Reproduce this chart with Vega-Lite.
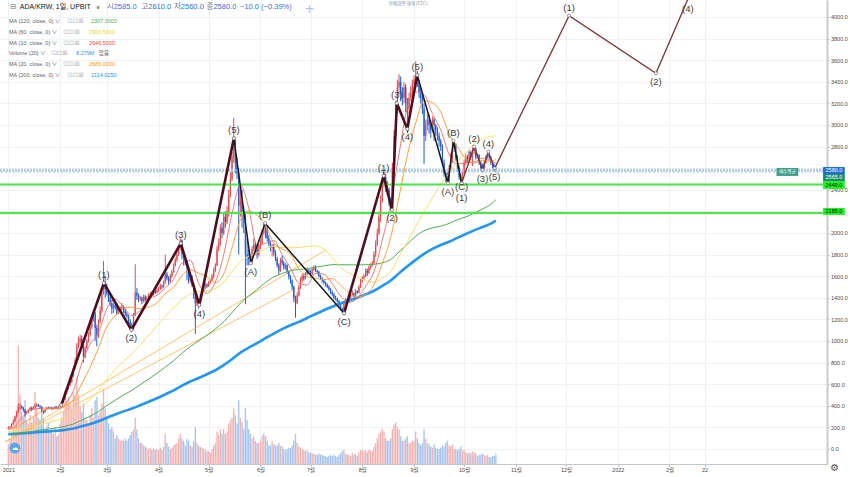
{
"$schema": "https://vega.github.io/schema/vega-lite/v6.json",
"width": 827,
"height": 464,
"autosize": {"type": "none"},
"padding": {"left": 0, "top": 0, "right": 23, "bottom": 13},
"background": "#ffffff",
"config": {"view": {"stroke": null}, "axis": {"labelOverlap": false, "labelBound": false}, "axisY": {"labelOverlap": false}, "axisQuantitative": {"labelOverlap": false, "tickCount": 21}},
"datasets": {
"c": [
{"d":"2021-01-01","o":190,"h":210,"l":185,"c":200,"v":17},
{"d":"2021-01-02","o":200,"h":215,"l":195,"c":205,"v":22},
{"d":"2021-01-03","o":205,"h":240,"l":200,"c":230,"v":26},
{"d":"2021-01-04","o":230,"h":275,"l":222,"c":260,"v":30},
{"d":"2021-01-05","o":260,"h":310,"l":250,"c":300,"v":39},
{"d":"2021-01-06","o":300,"h":350,"l":292,"c":340,"v":47},
{"d":"2021-01-07","o":340,"h":420,"l":330,"c":390,"v":102},
{"d":"2021-01-08","o":390,"h":425,"l":360,"c":395,"v":60},
{"d":"2021-01-09","o":395,"h":405,"l":370,"c":380,"v":45},
{"d":"2021-01-10","o":380,"h":390,"l":345,"c":360,"v":40},
{"d":"2021-01-11","o":360,"h":370,"l":300,"c":330,"v":55},
{"d":"2021-01-12","o":330,"h":355,"l":320,"c":340,"v":38},
{"d":"2021-01-13","o":340,"h":368,"l":330,"c":360,"v":35},
{"d":"2021-01-14","o":360,"h":390,"l":355,"c":380,"v":42},
{"d":"2021-01-15","o":380,"h":392,"l":350,"c":370,"v":36},
{"d":"2021-01-16","o":370,"h":395,"l":365,"c":385,"v":40},
{"d":"2021-01-17","o":385,"h":420,"l":378,"c":395,"v":62},
{"d":"2021-01-18","o":395,"h":425,"l":388,"c":410,"v":48},
{"d":"2021-01-19","o":410,"h":418,"l":390,"c":400,"v":40},
{"d":"2021-01-20","o":400,"h":405,"l":370,"c":390,"v":38},
{"d":"2021-01-21","o":390,"h":395,"l":340,"c":355,"v":45},
{"d":"2021-01-22","o":355,"h":362,"l":325,"c":340,"v":40},
{"d":"2021-01-23","o":340,"h":372,"l":335,"c":365,"v":30},
{"d":"2021-01-24","o":365,"h":388,"l":360,"c":380,"v":33},
{"d":"2021-01-25","o":380,"h":392,"l":368,"c":375,"v":36},
{"d":"2021-01-26","o":375,"h":390,"l":370,"c":385,"v":28},
{"d":"2021-01-27","o":385,"h":390,"l":360,"c":370,"v":30},
{"d":"2021-01-28","o":370,"h":386,"l":365,"c":380,"v":26},
{"d":"2021-01-29","o":380,"h":398,"l":372,"c":390,"v":32},
{"d":"2021-01-30","o":390,"h":395,"l":378,"c":385,"v":24},
{"d":"2021-01-31","o":385,"h":402,"l":380,"c":395,"v":25},
{"d":"2021-02-01","o":395,"h":418,"l":390,"c":410,"v":35},
{"d":"2021-02-02","o":410,"h":440,"l":405,"c":430,"v":40},
{"d":"2021-02-03","o":430,"h":470,"l":425,"c":460,"v":45},
{"d":"2021-02-04","o":460,"h":540,"l":455,"c":520,"v":60},
{"d":"2021-02-05","o":520,"h":575,"l":505,"c":560,"v":55},
{"d":"2021-02-06","o":560,"h":620,"l":548,"c":600,"v":58},
{"d":"2021-02-07","o":600,"h":650,"l":580,"c":620,"v":52},
{"d":"2021-02-08","o":620,"h":700,"l":610,"c":680,"v":48},
{"d":"2021-02-09","o":680,"h":770,"l":665,"c":750,"v":62},
{"d":"2021-02-10","o":750,"h":850,"l":740,"c":820,"v":58},
{"d":"2021-02-11","o":820,"h":980,"l":810,"c":950,"v":75},
{"d":"2021-02-12","o":950,"h":1040,"l":930,"c":990,"v":60},
{"d":"2021-02-13","o":990,"h":1060,"l":960,"c":1020,"v":50},
{"d":"2021-02-14","o":1020,"h":1050,"l":930,"c":960,"v":45},
{"d":"2021-02-15","o":960,"h":980,"l":800,"c":850,"v":52},
{"d":"2021-02-16","o":850,"h":950,"l":840,"c":930,"v":40},
{"d":"2021-02-17","o":930,"h":1020,"l":920,"c":1000,"v":38},
{"d":"2021-02-18","o":1000,"h":1080,"l":985,"c":1060,"v":35},
{"d":"2021-02-19","o":1060,"h":1160,"l":1040,"c":1130,"v":42},
{"d":"2021-02-20","o":1130,"h":1250,"l":1110,"c":1200,"v":48},
{"d":"2021-02-21","o":1200,"h":1290,"l":1180,"c":1250,"v":40},
{"d":"2021-02-22","o":1250,"h":1270,"l":1000,"c":1120,"v":55},
{"d":"2021-02-23","o":1120,"h":1150,"l":950,"c":1050,"v":58},
{"d":"2021-02-24","o":1050,"h":1200,"l":1030,"c":1180,"v":42},
{"d":"2021-02-25","o":1180,"h":1320,"l":1160,"c":1280,"v":45},
{"d":"2021-02-26","o":1280,"h":1480,"l":1260,"c":1450,"v":52},
{"d":"2021-02-27","o":1450,"h":1740,"l":1430,"c":1540,"v":65},
{"d":"2021-02-28","o":1540,"h":1600,"l":1400,"c":1480,"v":48},
{"d":"2021-03-01","o":1480,"h":1530,"l":1420,"c":1440,"v":40},
{"d":"2021-03-02","o":1440,"h":1460,"l":1360,"c":1400,"v":35},
{"d":"2021-03-03","o":1400,"h":1420,"l":1320,"c":1350,"v":30},
{"d":"2021-03-04","o":1350,"h":1380,"l":1250,"c":1300,"v":32},
{"d":"2021-03-05","o":1300,"h":1350,"l":1260,"c":1330,"v":28},
{"d":"2021-03-06","o":1330,"h":1345,"l":1290,"c":1310,"v":22},
{"d":"2021-03-07","o":1310,"h":1320,"l":1240,"c":1260,"v":25},
{"d":"2021-03-08","o":1260,"h":1310,"l":1250,"c":1290,"v":22},
{"d":"2021-03-09","o":1290,"h":1320,"l":1270,"c":1300,"v":20},
{"d":"2021-03-10","o":1300,"h":1350,"l":1285,"c":1320,"v":21},
{"d":"2021-03-11","o":1320,"h":1330,"l":1260,"c":1280,"v":20},
{"d":"2021-03-12","o":1280,"h":1300,"l":1230,"c":1250,"v":22},
{"d":"2021-03-13","o":1250,"h":1270,"l":1210,"c":1230,"v":20},
{"d":"2021-03-14","o":1230,"h":1245,"l":1160,"c":1180,"v":22},
{"d":"2021-03-15","o":1180,"h":1200,"l":1120,"c":1150,"v":25},
{"d":"2021-03-16","o":1150,"h":1170,"l":1095,"c":1110,"v":28},
{"d":"2021-03-17","o":1110,"h":1260,"l":1100,"c":1240,"v":30},
{"d":"2021-03-18","o":1240,"h":1710,"l":1230,"c":1450,"v":40},
{"d":"2021-03-19","o":1450,"h":1490,"l":1380,"c":1420,"v":30},
{"d":"2021-03-20","o":1420,"h":1440,"l":1360,"c":1390,"v":22},
{"d":"2021-03-21","o":1390,"h":1420,"l":1370,"c":1400,"v":18},
{"d":"2021-03-22","o":1400,"h":1410,"l":1340,"c":1370,"v":18},
{"d":"2021-03-23","o":1370,"h":1430,"l":1355,"c":1410,"v":16},
{"d":"2021-03-24","o":1410,"h":1425,"l":1360,"c":1380,"v":15},
{"d":"2021-03-25","o":1380,"h":1415,"l":1365,"c":1400,"v":14},
{"d":"2021-03-26","o":1400,"h":1440,"l":1390,"c":1420,"v":13},
{"d":"2021-03-27","o":1420,"h":1455,"l":1410,"c":1440,"v":14},
{"d":"2021-03-28","o":1440,"h":1460,"l":1415,"c":1430,"v":12},
{"d":"2021-03-29","o":1430,"h":1480,"l":1420,"c":1460,"v":14},
{"d":"2021-03-30","o":1460,"h":1475,"l":1435,"c":1450,"v":12},
{"d":"2021-03-31","o":1450,"h":1490,"l":1440,"c":1470,"v":13},
{"d":"2021-04-01","o":1470,"h":1500,"l":1455,"c":1480,"v":12},
{"d":"2021-04-02","o":1480,"h":1530,"l":1470,"c":1510,"v":14},
{"d":"2021-04-03","o":1510,"h":1525,"l":1480,"c":1500,"v":12},
{"d":"2021-04-04","o":1500,"h":1560,"l":1490,"c":1540,"v":15},
{"d":"2021-04-05","o":1540,"h":1800,"l":1530,"c":1620,"v":26},
{"d":"2021-04-06","o":1620,"h":1640,"l":1560,"c":1580,"v":18},
{"d":"2021-04-07","o":1580,"h":1600,"l":1520,"c":1550,"v":15},
{"d":"2021-04-08","o":1550,"h":1620,"l":1540,"c":1600,"v":13},
{"d":"2021-04-09","o":1600,"h":1660,"l":1585,"c":1640,"v":14},
{"d":"2021-04-10","o":1640,"h":1720,"l":1630,"c":1700,"v":16},
{"d":"2021-04-11","o":1700,"h":1770,"l":1690,"c":1750,"v":17},
{"d":"2021-04-12","o":1750,"h":1830,"l":1730,"c":1800,"v":18},
{"d":"2021-04-13","o":1800,"h":1890,"l":1790,"c":1860,"v":22},
{"d":"2021-04-14","o":1860,"h":1960,"l":1840,"c":1930,"v":26},
{"d":"2021-04-15","o":1930,"h":1940,"l":1760,"c":1800,"v":22},
{"d":"2021-04-16","o":1800,"h":1830,"l":1700,"c":1780,"v":20},
{"d":"2021-04-17","o":1780,"h":1790,"l":1700,"c":1720,"v":16},
{"d":"2021-04-18","o":1720,"h":1750,"l":1560,"c":1680,"v":22},
{"d":"2021-04-19","o":1680,"h":1690,"l":1530,"c":1560,"v":20},
{"d":"2021-04-20","o":1560,"h":1620,"l":1540,"c":1600,"v":16},
{"d":"2021-04-21","o":1600,"h":1610,"l":1500,"c":1520,"v":15},
{"d":"2021-04-22","o":1520,"h":1540,"l":1390,"c":1420,"v":20},
{"d":"2021-04-23","o":1420,"h":1440,"l":1065,"c":1350,"v":32},
{"d":"2021-04-24","o":1350,"h":1400,"l":1320,"c":1380,"v":18},
{"d":"2021-04-25","o":1380,"h":1390,"l":1300,"c":1330,"v":16},
{"d":"2021-04-26","o":1330,"h":1440,"l":1320,"c":1420,"v":15},
{"d":"2021-04-27","o":1420,"h":1480,"l":1410,"c":1460,"v":14},
{"d":"2021-04-28","o":1460,"h":1520,"l":1450,"c":1500,"v":13},
{"d":"2021-04-29","o":1500,"h":1540,"l":1480,"c":1520,"v":12},
{"d":"2021-04-30","o":1520,"h":1535,"l":1490,"c":1510,"v":11},
{"d":"2021-05-01","o":1510,"h":1555,"l":1500,"c":1540,"v":11},
{"d":"2021-05-02","o":1540,"h":1575,"l":1530,"c":1560,"v":10},
{"d":"2021-05-03","o":1560,"h":1620,"l":1550,"c":1600,"v":13},
{"d":"2021-05-04","o":1600,"h":1680,"l":1580,"c":1650,"v":16},
{"d":"2021-05-05","o":1650,"h":1720,"l":1640,"c":1700,"v":18},
{"d":"2021-05-06","o":1700,"h":1880,"l":1690,"c":1850,"v":28},
{"d":"2021-05-07","o":1850,"h":1950,"l":1830,"c":1900,"v":25},
{"d":"2021-05-08","o":1900,"h":2080,"l":1880,"c":2050,"v":30},
{"d":"2021-05-09","o":2050,"h":2100,"l":1950,"c":2000,"v":26},
{"d":"2021-05-10","o":2000,"h":2180,"l":1980,"c":2150,"v":30},
{"d":"2021-05-11","o":2150,"h":2200,"l":2050,"c":2100,"v":26},
{"d":"2021-05-12","o":2100,"h":2250,"l":2080,"c":2200,"v":28},
{"d":"2021-05-13","o":2200,"h":2400,"l":2150,"c":2350,"v":35},
{"d":"2021-05-14","o":2350,"h":2560,"l":2330,"c":2500,"v":38},
{"d":"2021-05-15","o":2500,"h":2750,"l":2480,"c":2700,"v":40},
{"d":"2021-05-16","o":2700,"h":3065,"l":2650,"c":2850,"v":48},
{"d":"2021-05-17","o":2850,"h":2880,"l":2550,"c":2650,"v":42},
{"d":"2021-05-18","o":2650,"h":2700,"l":2500,"c":2550,"v":35},
{"d":"2021-05-19","o":2550,"h":2600,"l":1800,"c":2250,"v":55},
{"d":"2021-05-20","o":2250,"h":2420,"l":2150,"c":2300,"v":40},
{"d":"2021-05-21","o":2300,"h":2400,"l":2050,"c":2200,"v":36},
{"d":"2021-05-22","o":2200,"h":2250,"l":2000,"c":2150,"v":30},
{"d":"2021-05-23","o":2150,"h":2200,"l":1340,"c":1800,"v":48},
{"d":"2021-05-24","o":1800,"h":1950,"l":1700,"c":1780,"v":38},
{"d":"2021-05-25","o":1780,"h":1850,"l":1700,"c":1760,"v":30},
{"d":"2021-05-26","o":1760,"h":1800,"l":1715,"c":1730,"v":26},
{"d":"2021-05-27","o":1730,"h":1880,"l":1720,"c":1850,"v":22},
{"d":"2021-05-28","o":1850,"h":1950,"l":1830,"c":1900,"v":24},
{"d":"2021-05-29","o":1900,"h":1920,"l":1800,"c":1850,"v":20},
{"d":"2021-05-30","o":1850,"h":1880,"l":1760,"c":1800,"v":18},
{"d":"2021-05-31","o":1800,"h":1900,"l":1780,"c":1880,"v":18},
{"d":"2021-06-01","o":1880,"h":1940,"l":1850,"c":1900,"v":20},
{"d":"2021-06-02","o":1900,"h":2030,"l":1890,"c":2000,"v":24},
{"d":"2021-06-03","o":2000,"h":2095,"l":1980,"c":2080,"v":26},
{"d":"2021-06-04","o":2080,"h":2090,"l":1950,"c":2050,"v":24},
{"d":"2021-06-05","o":2050,"h":2060,"l":1920,"c":1950,"v":20},
{"d":"2021-06-06","o":1950,"h":1980,"l":1880,"c":1900,"v":16},
{"d":"2021-06-07","o":1900,"h":1930,"l":1830,"c":1860,"v":16},
{"d":"2021-06-08","o":1860,"h":1900,"l":1780,"c":1880,"v":20},
{"d":"2021-06-09","o":1880,"h":1900,"l":1790,"c":1820,"v":17},
{"d":"2021-06-10","o":1820,"h":1840,"l":1740,"c":1760,"v":16},
{"d":"2021-06-11","o":1760,"h":1780,"l":1680,"c":1700,"v":16},
{"d":"2021-06-12","o":1700,"h":1720,"l":1620,"c":1650,"v":18},
{"d":"2021-06-13","o":1650,"h":1770,"l":1640,"c":1750,"v":16},
{"d":"2021-06-14","o":1750,"h":1790,"l":1700,"c":1720,"v":15},
{"d":"2021-06-15","o":1720,"h":1740,"l":1660,"c":1680,"v":13},
{"d":"2021-06-16","o":1680,"h":1720,"l":1660,"c":1700,"v":12},
{"d":"2021-06-17","o":1700,"h":1710,"l":1620,"c":1640,"v":13},
{"d":"2021-06-18","o":1640,"h":1650,"l":1570,"c":1600,"v":14},
{"d":"2021-06-19","o":1600,"h":1610,"l":1530,"c":1560,"v":14},
{"d":"2021-06-20","o":1560,"h":1570,"l":1470,"c":1500,"v":16},
{"d":"2021-06-21","o":1500,"h":1510,"l":1360,"c":1400,"v":20},
{"d":"2021-06-22","o":1400,"h":1420,"l":1215,"c":1350,"v":26},
{"d":"2021-06-23","o":1350,"h":1450,"l":1340,"c":1420,"v":18},
{"d":"2021-06-24","o":1420,"h":1520,"l":1410,"c":1500,"v":15},
{"d":"2021-06-25","o":1500,"h":1590,"l":1480,"c":1560,"v":14},
{"d":"2021-06-26","o":1560,"h":1620,"l":1540,"c":1600,"v":13},
{"d":"2021-06-27","o":1600,"h":1630,"l":1560,"c":1580,"v":12},
{"d":"2021-06-28","o":1580,"h":1640,"l":1570,"c":1620,"v":11},
{"d":"2021-06-29","o":1620,"h":1680,"l":1610,"c":1650,"v":12},
{"d":"2021-06-30","o":1650,"h":1670,"l":1620,"c":1640,"v":10},
{"d":"2021-07-01","o":1640,"h":1660,"l":1600,"c":1620,"v":10},
{"d":"2021-07-02","o":1620,"h":1680,"l":1610,"c":1660,"v":9},
{"d":"2021-07-03","o":1660,"h":1700,"l":1650,"c":1680,"v":9},
{"d":"2021-07-04","o":1680,"h":1700,"l":1640,"c":1650,"v":8},
{"d":"2021-07-05","o":1650,"h":1660,"l":1620,"c":1640,"v":8},
{"d":"2021-07-06","o":1640,"h":1650,"l":1590,"c":1600,"v":9},
{"d":"2021-07-07","o":1600,"h":1615,"l":1565,"c":1580,"v":8},
{"d":"2021-07-08","o":1580,"h":1590,"l":1540,"c":1560,"v":8},
{"d":"2021-07-09","o":1560,"h":1575,"l":1525,"c":1540,"v":7},
{"d":"2021-07-10","o":1540,"h":1550,"l":1505,"c":1520,"v":7},
{"d":"2021-07-11","o":1520,"h":1535,"l":1490,"c":1500,"v":6},
{"d":"2021-07-12","o":1500,"h":1515,"l":1465,"c":1480,"v":7},
{"d":"2021-07-13","o":1480,"h":1490,"l":1435,"c":1450,"v":8},
{"d":"2021-07-14","o":1450,"h":1465,"l":1415,"c":1430,"v":7},
{"d":"2021-07-15","o":1430,"h":1445,"l":1385,"c":1400,"v":8},
{"d":"2021-07-16","o":1400,"h":1420,"l":1375,"c":1390,"v":7},
{"d":"2021-07-17","o":1390,"h":1400,"l":1355,"c":1370,"v":6},
{"d":"2021-07-18","o":1370,"h":1380,"l":1315,"c":1330,"v":8},
{"d":"2021-07-19","o":1330,"h":1345,"l":1280,"c":1300,"v":9},
{"d":"2021-07-20","o":1300,"h":1310,"l":1255,"c":1280,"v":11},
{"d":"2021-07-21","o":1280,"h":1365,"l":1262,"c":1350,"v":12},
{"d":"2021-07-22","o":1350,"h":1395,"l":1340,"c":1380,"v":9},
{"d":"2021-07-23","o":1380,"h":1390,"l":1350,"c":1370,"v":8},
{"d":"2021-07-24","o":1370,"h":1415,"l":1360,"c":1400,"v":8},
{"d":"2021-07-25","o":1400,"h":1435,"l":1390,"c":1420,"v":7},
{"d":"2021-07-26","o":1420,"h":1470,"l":1410,"c":1440,"v":10},
{"d":"2021-07-27","o":1440,"h":1450,"l":1400,"c":1420,"v":8},
{"d":"2021-07-28","o":1420,"h":1480,"l":1410,"c":1460,"v":9},
{"d":"2021-07-29","o":1460,"h":1470,"l":1435,"c":1450,"v":7},
{"d":"2021-07-30","o":1450,"h":1520,"l":1440,"c":1500,"v":10},
{"d":"2021-07-31","o":1500,"h":1580,"l":1490,"c":1560,"v":12},
{"d":"2021-08-01","o":1560,"h":1600,"l":1540,"c":1580,"v":12},
{"d":"2021-08-02","o":1580,"h":1620,"l":1565,"c":1600,"v":11},
{"d":"2021-08-03","o":1600,"h":1670,"l":1590,"c":1650,"v":12},
{"d":"2021-08-04","o":1650,"h":1670,"l":1600,"c":1630,"v":10},
{"d":"2021-08-05","o":1630,"h":1700,"l":1620,"c":1680,"v":12},
{"d":"2021-08-06","o":1680,"h":1720,"l":1660,"c":1700,"v":12},
{"d":"2021-08-07","o":1700,"h":1740,"l":1690,"c":1720,"v":11},
{"d":"2021-08-08","o":1720,"h":1830,"l":1710,"c":1800,"v":15},
{"d":"2021-08-09","o":1800,"h":1930,"l":1780,"c":1900,"v":18},
{"d":"2021-08-10","o":1900,"h":2040,"l":1880,"c":2000,"v":22},
{"d":"2021-08-11","o":2000,"h":2200,"l":1980,"c":2150,"v":26},
{"d":"2021-08-12","o":2150,"h":2350,"l":2100,"c":2300,"v":28},
{"d":"2021-08-13","o":2300,"h":2500,"l":2280,"c":2450,"v":30},
{"d":"2021-08-14","o":2450,"h":2580,"l":2420,"c":2520,"v":28},
{"d":"2021-08-15","o":2520,"h":2550,"l":2380,"c":2450,"v":22},
{"d":"2021-08-16","o":2450,"h":2480,"l":2340,"c":2400,"v":20},
{"d":"2021-08-17","o":2400,"h":2420,"l":2250,"c":2300,"v":20},
{"d":"2021-08-18","o":2300,"h":2330,"l":2210,"c":2250,"v":22},
{"d":"2021-08-19","o":2250,"h":2650,"l":2230,"c":2600,"v":30},
{"d":"2021-08-20","o":2600,"h":2950,"l":2580,"c":2900,"v":34},
{"d":"2021-08-21","o":2900,"h":3220,"l":2880,"c":3150,"v":36},
{"d":"2021-08-22","o":3150,"h":3420,"l":3100,"c":3350,"v":32},
{"d":"2021-08-23","o":3350,"h":3470,"l":3280,"c":3400,"v":30},
{"d":"2021-08-24","o":3400,"h":3450,"l":3220,"c":3300,"v":24},
{"d":"2021-08-25","o":3300,"h":3350,"l":3180,"c":3250,"v":20},
{"d":"2021-08-26","o":3250,"h":3400,"l":3200,"c":3350,"v":20},
{"d":"2021-08-27","o":3350,"h":3380,"l":3120,"c":3200,"v":22},
{"d":"2021-08-28","o":3200,"h":3250,"l":2960,"c":3150,"v":24},
{"d":"2021-08-29","o":3150,"h":3300,"l":3100,"c":3250,"v":18},
{"d":"2021-08-30","o":3250,"h":3360,"l":3220,"c":3300,"v":18},
{"d":"2021-08-31","o":3300,"h":3420,"l":3260,"c":3380,"v":20},
{"d":"2021-09-01","o":3380,"h":3460,"l":3330,"c":3420,"v":20},
{"d":"2021-09-02","o":3420,"h":3590,"l":3380,"c":3460,"v":28},
{"d":"2021-09-03","o":3460,"h":3500,"l":3350,"c":3400,"v":22},
{"d":"2021-09-04","o":3400,"h":3420,"l":3250,"c":3300,"v":18},
{"d":"2021-09-05","o":3300,"h":3340,"l":3200,"c":3250,"v":16},
{"d":"2021-09-06","o":3250,"h":3280,"l":3100,"c":3150,"v":18},
{"d":"2021-09-07","o":3150,"h":3200,"l":2640,"c":2900,"v":30},
{"d":"2021-09-08","o":2900,"h":3050,"l":2850,"c":3000,"v":22},
{"d":"2021-09-09","o":3000,"h":3100,"l":2950,"c":3050,"v":18},
{"d":"2021-09-10","o":3050,"h":3100,"l":2920,"c":3000,"v":17},
{"d":"2021-09-11","o":3000,"h":3020,"l":2880,"c":2950,"v":15},
{"d":"2021-09-12","o":2950,"h":3080,"l":2930,"c":3050,"v":14},
{"d":"2021-09-13","o":3050,"h":3070,"l":2850,"c":3000,"v":17},
{"d":"2021-09-14","o":3000,"h":3010,"l":2900,"c":2950,"v":14},
{"d":"2021-09-15","o":2950,"h":2980,"l":2860,"c":2900,"v":13},
{"d":"2021-09-16","o":2900,"h":2930,"l":2800,"c":2850,"v":13},
{"d":"2021-09-17","o":2850,"h":2870,"l":2760,"c":2800,"v":14},
{"d":"2021-09-18","o":2800,"h":2820,"l":2620,"c":2650,"v":16},
{"d":"2021-09-19","o":2650,"h":2680,"l":2520,"c":2550,"v":15},
{"d":"2021-09-20","o":2550,"h":2580,"l":2470,"c":2500,"v":18},
{"d":"2021-09-21","o":2500,"h":2560,"l":2450,"c":2480,"v":20},
{"d":"2021-09-22","o":2480,"h":2630,"l":2470,"c":2600,"v":16},
{"d":"2021-09-23","o":2600,"h":2740,"l":2580,"c":2700,"v":15},
{"d":"2021-09-24","o":2700,"h":2860,"l":2650,"c":2780,"v":17},
{"d":"2021-09-25","o":2780,"h":2850,"l":2750,"c":2820,"v":13},
{"d":"2021-09-26","o":2820,"h":2830,"l":2670,"c":2700,"v":13},
{"d":"2021-09-27","o":2700,"h":2720,"l":2570,"c":2600,"v":12},
{"d":"2021-09-28","o":2600,"h":2620,"l":2490,"c":2520,"v":13},
{"d":"2021-09-29","o":2520,"h":2550,"l":2450,"c":2470,"v":15},
{"d":"2021-09-30","o":2470,"h":2580,"l":2460,"c":2560,"v":12},
{"d":"2021-10-01","o":2560,"h":2680,"l":2540,"c":2650,"v":12},
{"d":"2021-10-02","o":2650,"h":2730,"l":2630,"c":2700,"v":10},
{"d":"2021-10-03","o":2700,"h":2720,"l":2650,"c":2680,"v":9},
{"d":"2021-10-04","o":2680,"h":2770,"l":2660,"c":2750,"v":10},
{"d":"2021-10-05","o":2750,"h":2760,"l":2670,"c":2700,"v":9},
{"d":"2021-10-06","o":2700,"h":2790,"l":2620,"c":2760,"v":11},
{"d":"2021-10-07","o":2760,"h":2800,"l":2730,"c":2780,"v":10},
{"d":"2021-10-08","o":2780,"h":2790,"l":2680,"c":2700,"v":9},
{"d":"2021-10-09","o":2700,"h":2740,"l":2690,"c":2720,"v":7},
{"d":"2021-10-10","o":2720,"h":2730,"l":2630,"c":2650,"v":8},
{"d":"2021-10-11","o":2650,"h":2670,"l":2580,"c":2600,"v":8},
{"d":"2021-10-12","o":2600,"h":2640,"l":2560,"c":2590,"v":9},
{"d":"2021-10-13","o":2590,"h":2670,"l":2575,"c":2650,"v":8},
{"d":"2021-10-14","o":2650,"h":2720,"l":2640,"c":2700,"v":7},
{"d":"2021-10-15","o":2700,"h":2760,"l":2690,"c":2730,"v":8},
{"d":"2021-10-16","o":2730,"h":2740,"l":2680,"c":2700,"v":6},
{"d":"2021-10-17","o":2700,"h":2710,"l":2630,"c":2650,"v":6},
{"d":"2021-10-18","o":2650,"h":2670,"l":2600,"c":2620,"v":7},
{"d":"2021-10-19","o":2620,"h":2640,"l":2570,"c":2590,"v":7},
{"d":"2021-10-20","o":2585,"h":2610,"l":2560,"c":2580,"v":8.3}
],
"ma": [
{"d":"2021-01-01","m10":186,"m20":181,"m60":160,"m120":137,"m200":138},
{"d":"2021-01-05","m10":210,"m20":195,"m60":167,"m120":141,"m200":140},
{"d":"2021-01-10","m10":306,"m20":243,"m60":187,"m120":152,"m200":146},
{"d":"2021-01-15","m10":365,"m20":287,"m60":205,"m120":162,"m200":151},
{"d":"2021-01-20","m10":376,"m20":341,"m60":226,"m120":174,"m200":158},
{"d":"2021-01-25","m10":380,"m20":372,"m60":245,"m120":185,"m200":163},
{"d":"2021-01-30","m10":373,"m20":374,"m60":265,"m120":196,"m200":169},
{"d":"2021-02-04","m10":413,"m20":396,"m60":287,"m120":210,"m200":177},
{"d":"2021-02-09","m10":543,"m20":458,"m60":326,"m120":232,"m200":189},
{"d":"2021-02-14","m10":795,"m20":604,"m60":391,"m120":267,"m200":210},
{"d":"2021-02-19","m10":971,"m20":757,"m60":459,"m120":303,"m200":231},
{"d":"2021-02-24","m10":1077,"m20":936,"m60":540,"m120":347,"m200":256},
{"d":"2021-03-01","m10":1299,"m20":1135,"m60":645,"m120":402,"m200":289},
{"d":"2021-03-06","m10":1388,"m20":1233,"m60":736,"m120":452,"m200":319},
{"d":"2021-03-11","m10":1314,"m20":1307,"m60":813,"m120":500,"m200":348},
{"d":"2021-03-16","m10":1237,"m20":1313,"m60":881,"m120":543,"m200":374},
{"d":"2021-03-21","m10":1282,"m20":1298,"m60":964,"m120":595,"m200":405},
{"d":"2021-03-26","m10":1388,"m20":1313,"m60":1050,"m120":647,"m200":437},
{"d":"2021-03-31","m10":1423,"m20":1353,"m60":1139,"m120":702,"m200":470},
{"d":"2021-04-05","m10":1490,"m20":1439,"m60":1229,"m120":758,"m200":506},
{"d":"2021-04-10","m10":1572,"m20":1498,"m60":1310,"m120":818,"m200":543},
{"d":"2021-04-15","m10":1721,"m20":1606,"m60":1384,"m120":887,"m200":586},
{"d":"2021-04-20","m10":1748,"m20":1660,"m60":1440,"m120":949,"m200":625},
{"d":"2021-04-25","m10":1534,"m20":1628,"m60":1460,"m120":1000,"m200":657},
{"d":"2021-04-30","m10":1441,"m20":1595,"m60":1463,"m120":1054,"m200":692},
{"d":"2021-05-05","m10":1546,"m20":1540,"m60":1486,"m120":1111,"m200":729},
{"d":"2021-05-10","m10":1800,"m20":1621,"m60":1544,"m120":1178,"m200":776},
{"d":"2021-05-15","m10":2180,"m20":1863,"m60":1643,"m120":1262,"m200":832},
{"d":"2021-05-20","m10":2445,"m20":2123,"m60":1738,"m120":1351,"m200":892},
{"d":"2021-05-25","m10":2229,"m20":2205,"m60":1784,"m120":1417,"m200":938},
{"d":"2021-05-30","m10":1882,"m20":2164,"m60":1816,"m120":1477,"m200":980},
{"d":"2021-06-04","m10":1904,"m20":2067,"m60":1853,"m120":1541,"m200":1026},
{"d":"2021-06-09","m10":1929,"m20":1907,"m60":1876,"m120":1593,"m200":1069},
{"d":"2021-06-14","m10":1799,"m20":1852,"m60":1866,"m120":1625,"m200":1109},
{"d":"2021-06-19","m10":1676,"m20":1804,"m60":1863,"m120":1651,"m200":1146},
{"d":"2021-06-24","m10":1535,"m20":1667,"m60":1865,"m120":1662,"m200":1177},
{"d":"2021-06-29","m10":1518,"m20":1597,"m60":1876,"m120":1670,"m200":1213},
{"d":"2021-07-04","m10":1626,"m20":1581,"m60":1880,"m120":1683,"m200":1250},
{"d":"2021-07-09","m10":1617,"m20":1568,"m60":1848,"m120":1695,"m200":1285},
{"d":"2021-07-14","m10":1530,"m20":1578,"m60":1774,"m120":1707,"m200":1317},
{"d":"2021-07-19","m10":1417,"m20":1517,"m60":1681,"m120":1706,"m200":1347},
{"d":"2021-07-24","m10":1357,"m20":1444,"m60":1631,"m120":1705,"m200":1375},
{"d":"2021-07-29","m10":1397,"m20":1407,"m60":1592,"m120":1704,"m200":1401},
{"d":"2021-08-03","m10":1508,"m20":1433,"m60":1559,"m120":1706,"m200":1432},
{"d":"2021-08-08","m10":1642,"m20":1520,"m60":1545,"m120":1710,"m200":1465},
{"d":"2021-08-13","m10":1933,"m20":1721,"m60":1582,"m120":1724,"m200":1510},
{"d":"2021-08-18","m10":2272,"m20":1957,"m60":1644,"m120":1754,"m200":1560},
{"d":"2021-08-23","m10":2732,"m20":2333,"m60":1781,"m120":1824,"m200":1626},
{"d":"2021-08-28","m10":3165,"m20":2719,"m60":1918,"m120":1897,"m200":1691},
{"d":"2021-09-02","m10":3306,"m20":3019,"m60":2061,"m120":1970,"m200":1751},
{"d":"2021-09-07","m10":3281,"m20":3223,"m60":2196,"m120":2021,"m200":1806},
{"d":"2021-09-12","m10":3105,"m20":3206,"m60":2324,"m120":2047,"m200":1852},
{"d":"2021-09-17","m10":2955,"m20":3118,"m60":2452,"m120":2063,"m200":1889},
{"d":"2021-09-22","m10":2728,"m20":2917,"m60":2552,"m120":2088,"m200":1919},
{"d":"2021-09-27","m10":2638,"m20":2797,"m60":2659,"m120":2123,"m200":1955},
{"d":"2021-10-02","m10":2650,"m20":2689,"m60":2742,"m120":2148,"m200":1990},
{"d":"2021-10-07","m10":2657,"m20":2648,"m60":2828,"m120":2183,"m200":2024},
{"d":"2021-10-12","m10":2693,"m20":2672,"m60":2869,"m120":2222,"m200":2055},
{"d":"2021-10-17","m10":2669,"m20":2663,"m60":2894,"m120":2266,"m200":2086},
{"d":"2021-10-20","m10":2646,"m20":2686,"m60":2900,"m120":2307,"m200":2114}
],
"tl": [
{"g":"L1","d":"2020-12-30","p":65},
{"g":"L1","d":"2021-07-10T07:00Z","p":1843},
{"g":"L2","d":"2020-12-30","p":65},
{"g":"L2","d":"2021-06-20T10:00Z","p":1472}
],
"w": [
{"g":"i1","i":0,"d":"2021-02-01T17:00Z","p":407},
{"g":"i1","i":1,"d":"2021-02-27T05:00Z","p":1537},
{"g":"i1","i":2,"d":"2021-03-15T17:00Z","p":1102},
{"g":"i1","i":3,"d":"2021-04-14T07:00Z","p":1905},
{"g":"i1","i":4,"d":"2021-04-25T10:00Z","p":1333},
{"g":"i1","i":5,"d":"2021-05-16T02:00Z","p":2877},
{"g":"c1","i":0,"d":"2021-05-16T02:00Z","p":2877},
{"g":"c1","i":1,"d":"2021-05-26T07:00Z","p":1719},
{"g":"c1","i":2,"d":"2021-06-03T19:00Z","p":2090},
{"g":"c1","i":3,"d":"2021-07-21T02:00Z","p":1256},
{"g":"i2","i":0,"d":"2021-07-21T02:00Z","p":1256},
{"g":"i2","i":1,"d":"2021-08-13T19:00Z","p":2530},
{"g":"i2","i":2,"d":"2021-08-18T19:00Z","p":2213},
{"g":"i2","i":3,"d":"2021-08-21T17:00Z","p":3201},
{"g":"i2","i":4,"d":"2021-08-28T00:00Z","p":2963},
{"g":"i2","i":5,"d":"2021-09-02T22:00Z","p":3463},
{"g":"c2","i":0,"d":"2021-09-02T22:00Z","p":3463},
{"g":"c2","i":1,"d":"2021-09-21T07:00Z","p":2460},
{"g":"c2","i":2,"d":"2021-09-24T14:00Z","p":2855},
{"g":"c2","i":3,"d":"2021-09-29T12:00Z","p":2460},
{"g":"pr","i":0,"d":"2021-09-29T12:00Z","p":2460},
{"g":"pr","i":1,"d":"2021-10-07T00:00Z","p":2799},
{"g":"pr","i":2,"d":"2021-10-12T00:00Z","p":2583},
{"g":"pr","i":3,"d":"2021-10-15T12:00Z","p":2753},
{"g":"pr","i":4,"d":"2021-10-19T07:00Z","p":2599},
{"g":"pr","i":5,"d":"2021-12-02T21:00Z","p":4012},
{"g":"pr","i":6,"d":"2022-01-23T21:00Z","p":3479},
{"g":"pr","i":7,"d":"2022-02-19T14:00Z","p":4435}
],
"wl": [
{"t":"(1)","d":"2021-02-27T05:00Z","p":1537,"pos":"u"},
{"t":"(2)","d":"2021-03-15T17:00Z","p":1102,"pos":"b"},
{"t":"(3)","d":"2021-04-14T07:00Z","p":1905,"pos":"u"},
{"t":"(4)","d":"2021-04-25T10:00Z","p":1333,"pos":"b"},
{"t":"(5)","d":"2021-05-16T02:00Z","p":2877,"pos":"u"},
{"t":"(A)","d":"2021-05-26T07:00Z","p":1719,"pos":"b"},
{"t":"(B)","d":"2021-06-03T19:00Z","p":2090,"pos":"u"},
{"t":"(C)","d":"2021-07-21T02:00Z","p":1256,"pos":"b"},
{"t":"(1)","d":"2021-08-13T19:00Z","p":2530,"pos":"u"},
{"t":"(2)","d":"2021-08-18T19:00Z","p":2213,"pos":"b"},
{"t":"(3)","d":"2021-08-21T17:00Z","p":3201,"pos":"u"},
{"t":"(4)","d":"2021-08-28T00:00Z","p":2963,"pos":"b"},
{"t":"(5)","d":"2021-09-02T22:00Z","p":3463,"pos":"u"},
{"t":"(A)","d":"2021-09-21T07:00Z","p":2460,"pos":"b"},
{"t":"(B)","d":"2021-09-24T14:00Z","p":2855,"pos":"u"},
{"t":"(C)","d":"2021-09-29T12:00Z","p":2505,"pos":"b"},
{"t":"(1)","d":"2021-09-29T12:00Z","p":2400,"pos":"b"},
{"t":"(2)","d":"2021-10-07T00:00Z","p":2799,"pos":"u"},
{"t":"(3)","d":"2021-10-12T00:00Z","p":2583,"pos":"b"},
{"t":"(4)","d":"2021-10-15T12:00Z","p":2753,"pos":"u"},
{"t":"(5)","d":"2021-10-19T07:00Z","p":2599,"pos":"b"},
{"t":"(1)","d":"2021-12-02T21:00Z","p":4012,"pos":"u"},
{"t":"(2)","d":"2022-01-23T21:00Z","p":3479,"pos":"b"},
{"t":"(4)","d":"2022-02-12T00:00Z","p":4150,"pos":"b"}
],
"lv": [
{"k":"g","p":2449},
{"k":"g","p":2185},
{"k":"pl","p":2580},
{"k":"avg","p":2565}
],
"bx": [
{"k":"b","t":"2580.0","d":"2022-05-04","d2":"2022-05-17","dt":"2022-05-10T12:00Z","p":2546,"p2":2611,"pt":2579},
{"k":"t","t":"2565.0","d":"2022-05-04","d2":"2022-05-17","dt":"2022-05-10T12:00Z","p":2481,"p2":2546,"pt":2514},
{"k":"g","t":"2449.0","d":"2022-05-04","d2":"2022-05-17","dt":"2022-05-10T12:00Z","p":2407,"p2":2481,"pt":2444},
{"k":"g","t":"2185.0","d":"2022-05-04","d2":"2022-05-17","dt":"2022-05-10T12:00Z","p":2167,"p2":2231,"pt":2199},
{"k":"a","t":"매수평균","d":"2022-04-06T02:00Z","d2":"2022-04-19T02:00Z","dt":"2022-04-12T14:00Z","p":2528,"p2":2602,"pt":2565}
],
"hdl": [
{"t":"⊟","d":"2021-01-01T23:00Z","p":4088},
{"t":"시","d":"2021-02-28T23:00Z","p":4088},
{"t":"고","d":"2021-03-21T16:00Z","p":4088},
{"t":"저","d":"2021-04-10T05:00Z","p":4088},
{"t":"종","d":"2021-04-29T17:00Z","p":4088}
],
"hdt": [
{"t":"ADA/KRW, 1일, UPBIT","d":"2021-01-07T21:00Z","p":4088}
],
"hdc": [
{"t":"∨","d":"2021-02-22T12:00Z","p":4088}
],
"hdv": [
{"t":"2585.0","d":"2021-03-05T02:00Z","p":4088},
{"t":"2610.0","d":"2021-03-25T19:00Z","p":4088},
{"t":"2560.0","d":"2021-04-14T08:00Z","p":4088},
{"t":"2580.0","d":"2021-05-03T20:00Z","p":4088},
{"t":"−10.0 (−0.39%)","d":"2021-05-19T19:00Z","p":4088}
],
"lg": [
{"t":"MA (120, close, 0) ∨","d":"2021-01-01T09:00Z","p":3963},
{"t":"MA (60, close, 0) ∨","d":"2021-01-01T09:00Z","p":3861},
{"t":"MA (10, close, 0) ∨","d":"2021-01-01T09:00Z","p":3759},
{"t":"Volume (20) ∨","d":"2021-01-01T09:00Z","p":3662},
{"t":"없음","d":"2021-02-24T05:00Z","p":3662},
{"t":"MA (20, close, 0) ∨","d":"2021-01-01T09:00Z","p":3560},
{"t":"MA (200, close, 0) ∨","d":"2021-01-01T09:00Z","p":3458}
],
"ic": [
{"t":"⊡⊡⊠","d":"2021-02-05T07:00Z","p":3963},
{"t":"⊡⊡⊠","d":"2021-02-02T22:00Z","p":3861},
{"t":"⊡⊡⊠","d":"2021-02-02T22:00Z","p":3759},
{"t":"⊡⊡⊠","d":"2021-01-26T19:00Z","p":3662},
{"t":"⊡⊡⊠","d":"2021-02-02T22:00Z","p":3560},
{"t":"⊡⊡⊠","d":"2021-02-05T07:00Z","p":3458}
],
"lvv": [
{"t":"2307.0000","s":"m120","d":"2021-02-19T11:30Z","p":3963},
{"t":"2900.5000","s":"m60","d":"2021-02-18T07:00Z","p":3861},
{"t":"2646.5000","s":"m10","d":"2021-02-18T07:00Z","p":3759},
{"t":"8.279M","s":"vol","d":"2021-02-10T14:00Z","p":3662},
{"t":"2686.0000","s":"m20","d":"2021-02-18T07:00Z","p":3560},
{"t":"2114.0250","s":"m200","d":"2021-02-19T11:30Z","p":3458}
],
"mi": [
{"k":"cross","t":"+","d":"2021-06-30T10:00Z","p":4074},
{"k":"esc","t":"전체화면 해제 (ESC)","d":"2021-08-28T10:00Z","p":4120},
{"k":"gear","t":"⚙","d":"2022-05-10T22:00Z","p":-176},
{"k":"logo","t":"☁","d":"2021-01-04T22:00Z","p":9}
]
},
"layer": [
{
"data": {"name": "c"},
"mark": {"type": "bar", "size": 1.4},
"encoding": {
"x": {"field": "d", "type": "temporal", "title": null,
"scale": {"type": "utc", "domain": [{"year": 2020, "month": 12, "date": 30, "utc": true}, {"year": 2022, "month": 5, "date": 3, "hours": 8, "minutes": 24, "utc": true}]},
"axis": {"orient": "bottom", "title": null,
"values": [{"year":2021,"month":1,"date":1,"utc":true},{"year":2021,"month":2,"date":1,"utc":true},{"year":2021,"month":3,"date":1,"utc":true},{"year":2021,"month":4,"date":1,"utc":true},{"year":2021,"month":5,"date":1,"utc":true},{"year":2021,"month":6,"date":1,"utc":true},{"year":2021,"month":7,"date":1,"utc":true},{"year":2021,"month":8,"date":1,"utc":true},{"year":2021,"month":9,"date":1,"utc":true},{"year":2021,"month":10,"date":1,"utc":true},{"year":2021,"month":11,"date":1,"utc":true},{"year":2021,"month":12,"date":1,"utc":true},{"year":2022,"month":1,"date":1,"utc":true},{"year":2022,"month":2,"date":1,"utc":true},{"year":2022,"month":2,"date":22,"utc":true}],
"labelExpr": "utcdate(datum.value) != 1 ? '' + utcdate(datum.value) : (utcmonth(datum.value) == 0 ? '' + utcyear(datum.value) : (utcmonth(datum.value) + 1) + '월')",
"labelFont": "Liberation Sans, Noto Sans CJK KR, sans-serif", "labelFontSize": 5.5, "labelColor": "#4a4a4a",
"tickSize": 2, "tickColor": "#b0b3ba", "domainColor": "#c3c6cd", "domainWidth": 1,
"grid": true, "gridColor": "#eef1f6", "labelPadding": 1.5, "labelOverlap": false, "labelFlush": 5}},
"y": {"field": "v", "type": "quantitative", "scale": {"domain": [0, 400], "nice": false}, "axis": null},
"color": {"condition": {"test": "datum.c >= datum.o", "value": "#f4b6b5"}, "value": "#a9c5ee"}
}
},
{
"layer": [
{
"data": {"name": "c"},
"mark": {"type": "rule", "strokeWidth": 1},
"encoding": {
"x": {"field": "d", "type": "temporal", "scale": {"type": "utc"}, "title": null},
"y": {"field": "l", "type": "quantitative", "title": null,
"scale": {"domain": [-139, 4157], "nice": false, "zero": false},
"axis": {"orient": "right", "title": null, "values": [0,200,400,600,800,1000,1200,1400,1600,1800,2000,2200,2400,2600,2800,3000,3200,3400,3600,3800,4000], "tickCount": 21,
"labelExpr": "(datum.value == 2200 || datum.value == 2600) ? '' : format(datum.value, '.1f')",
"labelFont": "Liberation Sans, sans-serif", "labelFontSize": 5.5, "labelColor": "#4a4a4a",
"tickSize": 2, "tickColor": "#b0b3ba", "domainColor": "#c9ccd3", "domainWidth": 2,
"grid": true, "gridColor": "#eef1f6", "labelPadding": 1.5, "labelOverlap": false, "labelBound": false, "labelFlush": false}},
"y2": {"field": "h"},
"color": {"condition": {"test": "datum.c >= datum.o", "value": "#e34b4f"}, "value": "#1f5fd6"}
}
},
{
"data": {"name": "tl"},
"mark": {"type": "line", "color": "#ffb74d", "strokeWidth": 1, "opacity": 0.85},
"encoding": {
"x": {"field": "d", "type": "temporal", "scale": {"type": "utc"}, "title": null},
"y": {"field": "p", "type": "quantitative", "title": null},
"detail": {"field": "g"}
}
},
{
"data": {"name": "c"},
"mark": {"type": "bar", "size": 1.3},
"encoding": {
"x": {"field": "d", "type": "temporal", "scale": {"type": "utc"}, "title": null},
"y": {"field": "o", "type": "quantitative", "title": null},
"y2": {"field": "c"},
"color": {"condition": {"test": "datum.c >= datum.o", "value": "#e34b4f"}, "value": "#1f5fd6"}
}
},
{
"data": {"name": "ma"},
"mark": {"type": "line", "color": "#2196f3", "strokeWidth": 2.6, "interpolate": "monotone"},
"encoding": {
"x": {"field": "d", "type": "temporal", "scale": {"type": "utc"}, "title": null},
"y": {"field": "m200", "type": "quantitative", "title": null}
}
},
{
"data": {"name": "ma"},
"mark": {"type": "line", "color": "#4caf50", "strokeWidth": 1, "interpolate": "monotone"},
"encoding": {
"x": {"field": "d", "type": "temporal", "scale": {"type": "utc"}, "title": null},
"y": {"field": "m120", "type": "quantitative", "title": null}
}
},
{
"data": {"name": "ma"},
"mark": {"type": "line", "color": "#f7e160", "strokeWidth": 1, "interpolate": "monotone"},
"encoding": {
"x": {"field": "d", "type": "temporal", "scale": {"type": "utc"}, "title": null},
"y": {"field": "m60", "type": "quantitative", "title": null}
}
},
{
"data": {"name": "ma"},
"mark": {"type": "line", "color": "#ffa033", "strokeWidth": 1, "interpolate": "monotone"},
"encoding": {
"x": {"field": "d", "type": "temporal", "scale": {"type": "utc"}, "title": null},
"y": {"field": "m20", "type": "quantitative", "title": null}
}
},
{
"data": {"name": "ma"},
"mark": {"type": "line", "color": "#f06a6a", "strokeWidth": 1, "opacity": 0.9, "interpolate": "monotone"},
"encoding": {
"x": {"field": "d", "type": "temporal", "scale": {"type": "utc"}, "title": null},
"y": {"field": "m10", "type": "quantitative", "title": null}
}
},
{
"data": {"name": "lv"},
"transform": [{"filter": "datum.k == 'g'"}],
"mark": {"type": "rule", "color": "#47ea47", "strokeWidth": 2},
"encoding": {"y": {"field": "p", "type": "quantitative", "title": null}}
},
{
"data": {"name": "lv"},
"transform": [{"filter": "datum.k == 'avg'"}],
"mark": {"type": "rule", "color": "#9fd3c7", "strokeWidth": 1, "strokeDash": [2, 2]},
"encoding": {"y": {"field": "p", "type": "quantitative", "title": null}}
},
{
"data": {"name": "lv"},
"transform": [{"filter": "datum.k == 'pl'"}],
"mark": {"type": "rule", "color": "#a7c1e6", "strokeWidth": 3, "strokeDash": [2, 1], "opacity": 0.85},
"encoding": {"y": {"field": "p", "type": "quantitative", "title": null}}
},
{
"data": {"name": "w"},
"transform": [{"filter": "datum.g == 'i1' || datum.g == 'i2'"}],
"mark": {"type": "line", "color": "#4d0f1c", "strokeWidth": 2.6, "clip": true},
"encoding": {
"x": {"field": "d", "type": "temporal", "scale": {"type": "utc"}, "title": null},
"y": {"field": "p", "type": "quantitative", "title": null},
"detail": {"field": "g"},
"order": {"field": "i", "type": "quantitative"}
}
},
{
"data": {"name": "w"},
"transform": [{"filter": "datum.g == 'c1' || datum.g == 'c2'"}],
"mark": {"type": "line", "color": "#1a1a1a", "strokeWidth": 1.5, "clip": true},
"encoding": {
"x": {"field": "d", "type": "temporal", "scale": {"type": "utc"}, "title": null},
"y": {"field": "p", "type": "quantitative", "title": null},
"detail": {"field": "g"},
"order": {"field": "i", "type": "quantitative"}
}
},
{
"data": {"name": "w"},
"transform": [{"filter": "datum.g == 'pr'"}],
"mark": {"type": "line", "color": "#7a3430", "strokeWidth": 1.3, "clip": true},
"encoding": {
"x": {"field": "d", "type": "temporal", "scale": {"type": "utc"}, "title": null},
"y": {"field": "p", "type": "quantitative", "title": null},
"order": {"field": "i", "type": "quantitative"}
}
},
{
"data": {"name": "w"},
"mark": {"type": "point", "filled": true, "fill": "#ffffff", "stroke": "#777777", "strokeWidth": 0.8, "size": 10, "opacity": 1, "clip": true},
"encoding": {
"x": {"field": "d", "type": "temporal", "scale": {"type": "utc"}, "title": null},
"y": {"field": "p", "type": "quantitative", "title": null}
}
},
{
"data": {"name": "wl"},
"transform": [{"filter": "datum.pos == 'u'"}],
"mark": {"type": "text", "baseline": "bottom", "dy": -3, "fontSize": 9.5, "font": "Liberation Sans, sans-serif", "color": "#3d3d3d"},
"encoding": {
"x": {"field": "d", "type": "temporal", "scale": {"type": "utc"}, "title": null},
"y": {"field": "p", "type": "quantitative", "title": null},
"text": {"field": "t"}
}
},
{
"data": {"name": "wl"},
"transform": [{"filter": "datum.pos == 'b'"}],
"mark": {"type": "text", "baseline": "top", "dy": 3.5, "fontSize": 9.5, "font": "Liberation Sans, sans-serif", "color": "#3d3d3d"},
"encoding": {
"x": {"field": "d", "type": "temporal", "scale": {"type": "utc"}, "title": null},
"y": {"field": "p", "type": "quantitative", "title": null},
"text": {"field": "t"}
}
},
{
"data": {"name": "bx"},
"mark": {"type": "rect"},
"encoding": {
"x": {"field": "d", "type": "temporal", "scale": {"type": "utc"}, "title": null},
"x2": {"field": "d2"},
"y": {"field": "p", "type": "quantitative", "title": null},
"y2": {"field": "p2"},
"color": {"condition": [{"test": "datum.k == 'b'", "value": "#1f6fdc"}, {"test": "datum.k == 't'", "value": "#1a8c73"}, {"test": "datum.k == 'a'", "value": "#3d9f87"}], "value": "#22f222"}
}
},
{
"data": {"name": "bx"},
"transform": [{"filter": "datum.k != 'a'"}],
"mark": {"type": "text", "align": "center", "baseline": "middle", "fontSize": 5.5, "font": "Liberation Sans, sans-serif"},
"encoding": {
"x": {"field": "dt", "type": "temporal", "scale": {"type": "utc"}, "title": null},
"y": {"field": "pt", "type": "quantitative", "title": null},
"text": {"field": "t"},
"color": {"condition": {"test": "datum.k == 'g'", "value": "#0b0b0b"}, "value": "#ffffff"}
}
},
{
"data": {"name": "bx"},
"transform": [{"filter": "datum.k == 'a'"}],
"mark": {"type": "text", "align": "center", "baseline": "middle", "fontSize": 4.6, "font": "Noto Sans CJK KR, sans-serif", "color": "#ffffff"},
"encoding": {
"x": {"field": "dt", "type": "temporal", "scale": {"type": "utc"}, "title": null},
"y": {"field": "pt", "type": "quantitative", "title": null},
"text": {"field": "t"}
}
},
{
"data": {"name": "hdl"},
"mark": {"type": "text", "align": "left", "baseline": "middle", "fontSize": 7.5, "font": "Liberation Sans, Noto Sans CJK KR, DejaVu Sans, sans-serif", "color": "#787b86"},
"encoding": {
"x": {"field": "d", "type": "temporal", "scale": {"type": "utc"}, "title": null},
"y": {"field": "p", "type": "quantitative", "title": null},
"text": {"field": "t"}
}
},
{
"data": {"name": "hdt"},
"mark": {"type": "text", "align": "left", "baseline": "middle", "fontSize": 7, "font": "Liberation Sans, Noto Sans CJK KR, sans-serif", "color": "#131722"},
"encoding": {
"x": {"field": "d", "type": "temporal", "scale": {"type": "utc"}, "title": null},
"y": {"field": "p", "type": "quantitative", "title": null},
"text": {"field": "t"}
}
},
{
"data": {"name": "hdc"},
"mark": {"type": "text", "align": "left", "baseline": "middle", "fontSize": 5.5, "font": "DejaVu Sans, sans-serif", "color": "#131722"},
"encoding": {
"x": {"field": "d", "type": "temporal", "scale": {"type": "utc"}, "title": null},
"y": {"field": "p", "type": "quantitative", "title": null},
"text": {"field": "t"}
}
},
{
"data": {"name": "hdv"},
"mark": {"type": "text", "align": "left", "baseline": "middle", "fontSize": 7.5, "font": "Liberation Sans, sans-serif", "color": "#2e6fe6"},
"encoding": {
"x": {"field": "d", "type": "temporal", "scale": {"type": "utc"}, "title": null},
"y": {"field": "p", "type": "quantitative", "title": null},
"text": {"field": "t"}
}
},
{
"data": {"name": "lg"},
"mark": {"type": "text", "align": "left", "baseline": "middle", "fontSize": 5.5, "font": "Liberation Sans, Noto Sans CJK KR, DejaVu Sans, sans-serif", "color": "#5d606b"},
"encoding": {
"x": {"field": "d", "type": "temporal", "scale": {"type": "utc"}, "title": null},
"y": {"field": "p", "type": "quantitative", "title": null},
"text": {"field": "t"}
}
},
{
"data": {"name": "ic"},
"mark": {"type": "text", "align": "left", "baseline": "middle", "fontSize": 6.5, "font": "DejaVu Sans, sans-serif", "color": "#b9bcc4"},
"encoding": {
"x": {"field": "d", "type": "temporal", "scale": {"type": "utc"}, "title": null},
"y": {"field": "p", "type": "quantitative", "title": null},
"text": {"field": "t"}
}
},
{
"data": {"name": "lvv"},
"mark": {"type": "text", "align": "left", "baseline": "middle", "fontSize": 5.5, "font": "Liberation Sans, sans-serif"},
"encoding": {
"x": {"field": "d", "type": "temporal", "scale": {"type": "utc"}, "title": null},
"y": {"field": "p", "type": "quantitative", "title": null},
"text": {"field": "t"},
"color": {"condition": [{"test": "datum.s == 'm120'", "value": "#4caf50"}, {"test": "datum.s == 'm60'", "value": "#eed421"}, {"test": "datum.s == 'm10'", "value": "#f44336"}, {"test": "datum.s == 'm20'", "value": "#ff9800"}], "value": "#2196f3"}
}
},
{
"data": {"name": "mi"},
"transform": [{"filter": "datum.k == 'logo'"}],
"mark": {"type": "point", "filled": true, "shape": "circle", "size": 120, "color": "#4aa3f0", "opacity": 0.9},
"encoding": {
"x": {"field": "d", "type": "temporal", "scale": {"type": "utc"}, "title": null},
"y": {"field": "p", "type": "quantitative", "title": null}
}
},
{
"data": {"name": "mi"},
"transform": [{"filter": "datum.k == 'logo'"}],
"mark": {"type": "text", "align": "center", "baseline": "middle", "fontSize": 7, "font": "DejaVu Sans, sans-serif", "color": "#ffffff"},
"encoding": {
"x": {"field": "d", "type": "temporal", "scale": {"type": "utc"}, "title": null},
"y": {"field": "p", "type": "quantitative", "title": null},
"text": {"field": "t"}
}
},
{
"data": {"name": "mi"},
"transform": [{"filter": "datum.k == 'cross'"}],
"mark": {"type": "text", "align": "center", "baseline": "middle", "fontSize": 12, "font": "DejaVu Sans, sans-serif", "color": "#9cc3ec"},
"encoding": {
"x": {"field": "d", "type": "temporal", "scale": {"type": "utc"}, "title": null},
"y": {"field": "p", "type": "quantitative", "title": null},
"text": {"field": "t"}
}
},
{
"data": {"name": "mi"},
"transform": [{"filter": "datum.k == 'esc'"}],
"mark": {"type": "text", "align": "center", "baseline": "middle", "fontSize": 4.6, "font": "Noto Sans CJK KR, sans-serif", "color": "#8a8d96"},
"encoding": {
"x": {"field": "d", "type": "temporal", "scale": {"type": "utc"}, "title": null},
"y": {"field": "p", "type": "quantitative", "title": null},
"text": {"field": "t"}
}
},
{
"data": {"name": "mi"},
"transform": [{"filter": "datum.k == 'gear'"}],
"mark": {"type": "text", "align": "center", "baseline": "middle", "fontSize": 10, "font": "DejaVu Sans, sans-serif", "color": "#555555"},
"encoding": {
"x": {"field": "d", "type": "temporal", "scale": {"type": "utc"}, "title": null},
"y": {"field": "p", "type": "quantitative", "title": null},
"text": {"field": "t"}
}
}
]
}
],
"resolve": {"scale": {"y": "independent"}}
}
